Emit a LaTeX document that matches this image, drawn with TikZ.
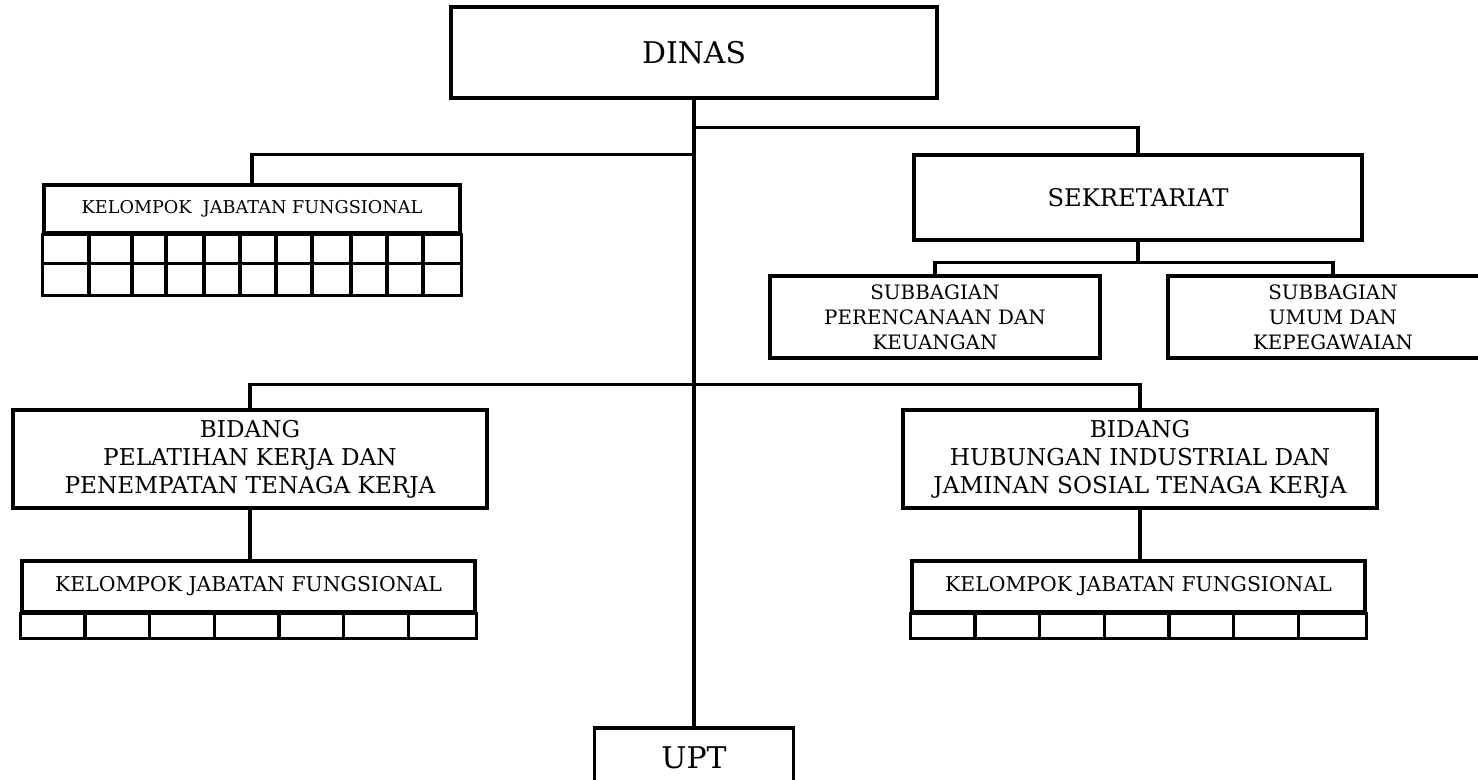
\documentclass[tikz,border=0pt]{standalone}
\usepackage{fontspec}
\setmainfont{DejaVu Serif}
\usepackage{tikz}
\usetikzlibrary{positioning}

\begin{document}
\begin{tikzpicture}[x=1cm,y=1cm,
  unit/.style={draw=black,line width=2pt,align=center,inner sep=0pt},
  link/.style={line width=1.9pt},
  cell/.style={line width=1.9pt}]
  \useasboundingbox (0,0) rectangle (29.56,15.6);

  % pimpinan
  \node[unit,minimum width=9.72cm,minimum height=1.82cm,font=\fontsize{17}{21}\selectfont] (dinas) at (13.88,14.55) {DINAS};
  \node[unit,anchor=north,minimum width=3.98cm,minimum height=1.2cm,font=\fontsize{17}{21}\selectfont] (upt) at (13.88,1.08) {UPT};

  % sekretariat
  \node[unit,minimum width=8.96cm,minimum height=1.7cm,font=\fontsize{13.8}{16}\selectfont] (sekr) at (22.76,11.65) {SEKRETARIAT};
  \node[unit,minimum width=6.6cm,minimum height=1.64cm,font=\fontsize{11.3}{14.2}\selectfont] (subpk) at (18.7,9.26)
    {SUBBAGIAN\\PERENCANAAN DAN\\KEUANGAN};
  \node[unit,minimum width=6.6cm,minimum height=1.64cm,font=\fontsize{11.3}{14.2}\selectfont] (subup) at (26.66,9.26)
    {SUBBAGIAN\\UMUM DAN\\KEPEGAWAIAN};

  % bidang
  \node[unit,minimum width=9.48cm,minimum height=1.96cm,font=\fontsize{13.2}{16}\selectfont] (latih) at (5.0,6.42)
    {BIDANG\\PELATIHAN KERJA DAN\\PENEMPATAN TENAGA KERJA};
  \node[unit,minimum width=9.48cm,minimum height=1.96cm,font=\fontsize{13.2}{16}\selectfont] (hubin) at (22.8,6.42)
    {BIDANG\\HUBUNGAN INDUSTRIAL DAN\\JAMINAN SOSIAL TENAGA KERJA};

  % kelompok jabatan fungsional
  \node[unit,minimum width=8.32cm,minimum height=0.96cm,font=\fontsize{10.05}{12}\selectfont] (kjfdinas) at (5.04,11.42)
    {KELOMPOK\ \ JABATAN FUNGSIONAL};
  \node[unit,minimum width=9.06cm,minimum height=1.02cm,font=\fontsize{11.6}{14}\selectfont] (kjflatih) at (4.97,3.87)
    {KELOMPOK JABATAN FUNGSIONAL};
  \node[unit,minimum width=9.06cm,minimum height=1.02cm,font=\fontsize{11.6}{14}\selectfont] (kjfhubin) at (22.77,3.87)
    {KELOMPOK JABATAN FUNGSIONAL};

  \draw[cell] (kjfdinas.south west) rectangle ([yshift=-1.22cm]kjfdinas.south east);
  \draw[cell] ([yshift=-0.58cm]kjfdinas.south west) -- ([yshift=-0.58cm]kjfdinas.south east);
  \foreach \x in {1.78,2.64,3.32,4.08,4.80,5.52,6.24,7.02,7.74,8.46}
    \draw[cell] (\x,10.94) -- (\x,9.72);
  \foreach \k in {kjflatih,kjfhubin}{
    \draw[cell] (\k.south west) rectangle ([yshift=-0.5cm]\k.south east);
    \foreach \i in {1,...,6}
      \draw[cell] ([xshift=\i*1.294cm]\k.south west) -- ++(0,-0.5);
  }

  % garis komando
  \draw[link] (dinas.south) -- (upt.north);
  \draw[link] (dinas.south) ++(0,-0.56) -| (sekr.north);
  \draw[link] (dinas.south) ++(0,-1.1) -| (kjfdinas.north);
  \draw[link] (sekr.south) -- ++(0,-0.42) coordinate (sekrbus);
  \draw[link] (subpk.north) |- (sekrbus) -| (subup.north);
  \draw[link] (latih.north) -- ++(0,0.48) -| (hubin.north);
  \draw[link] (latih.south) -- (latih.south |- kjflatih.north);
  \draw[link] (hubin.south) -- (hubin.south |- kjfhubin.north);
\end{tikzpicture}
\end{document}
